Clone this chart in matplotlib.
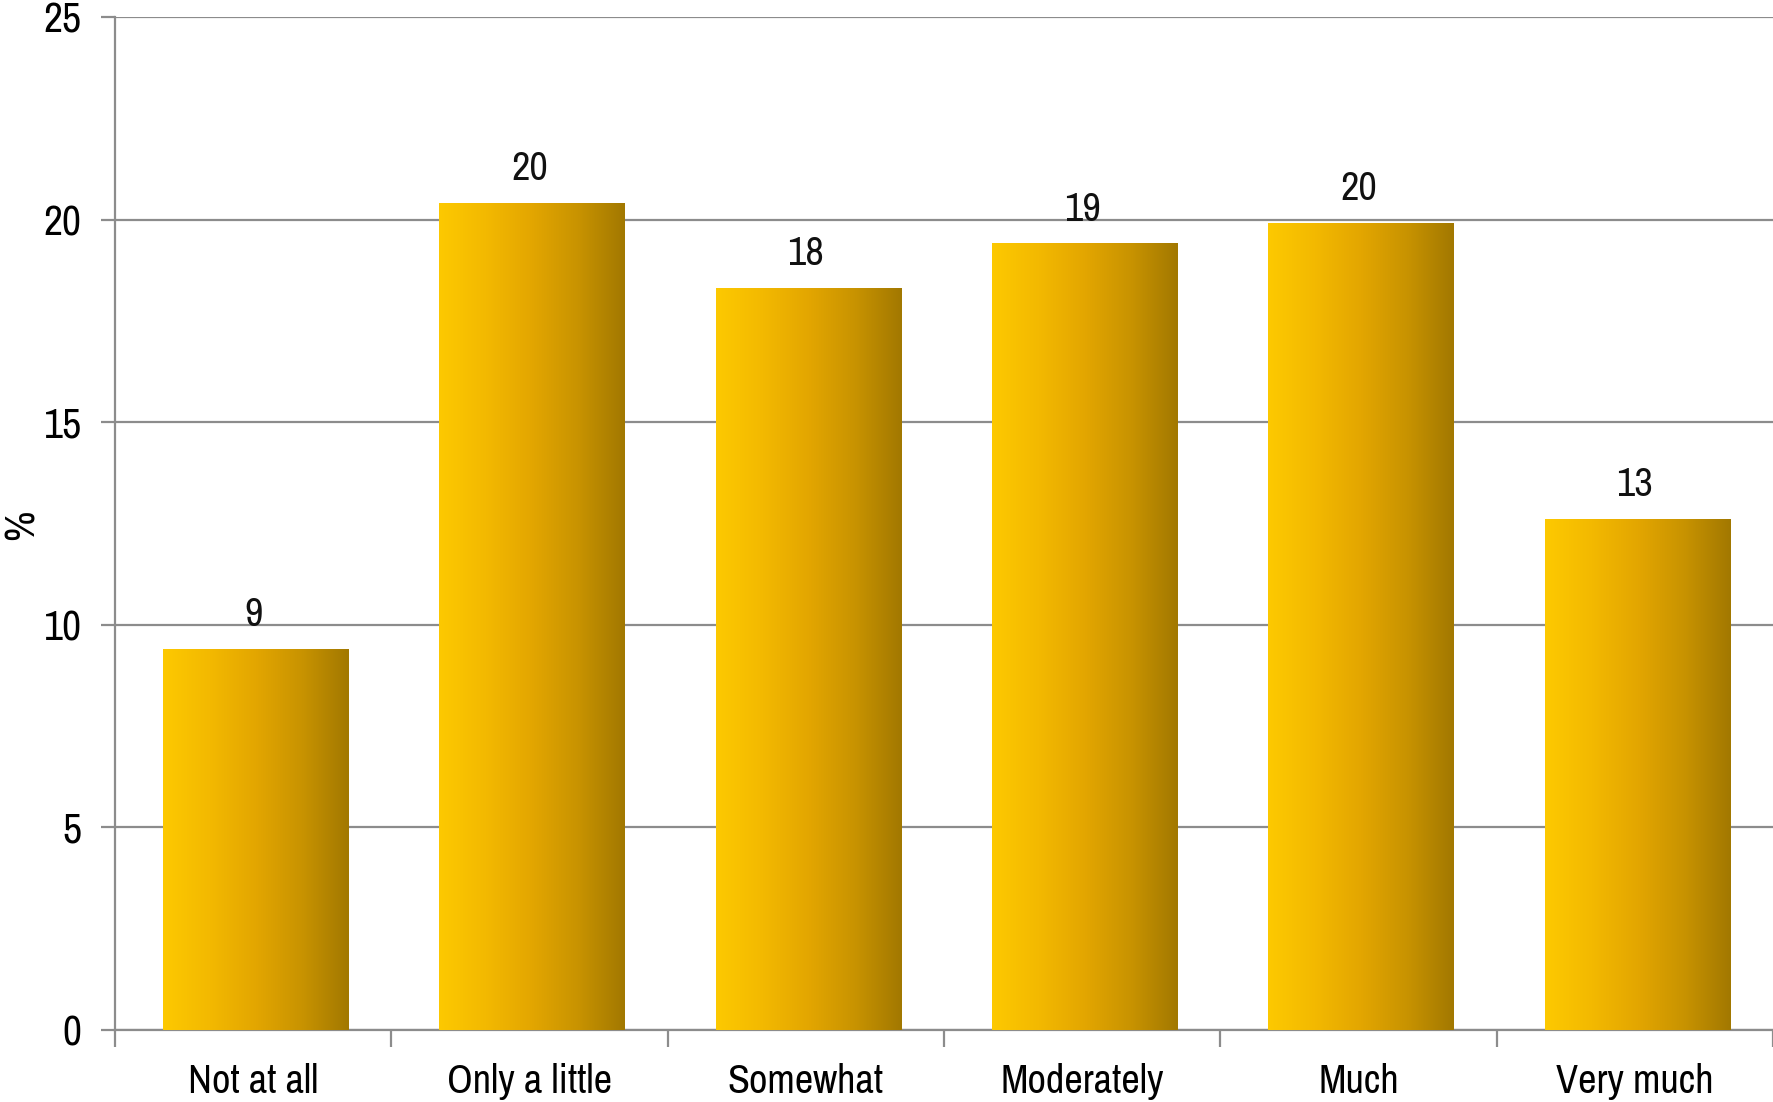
import numpy as np
import matplotlib
matplotlib.use('Agg')
import matplotlib.pyplot as plt
from matplotlib import font_manager
from matplotlib.colors import LinearSegmentedColormap

categories = ['Not at all', 'Only a little', 'Somewhat', 'Moderately', 'Much', 'Very much']
values = [9.4, 20.4, 18.3, 19.4, 19.9, 12.6]
labels = ['9', '20', '18', '19', '20', '13']

# narrow font if there is one, otherwise Liberation Sans
names = sorted(set(f.name for f in font_manager.fontManager.ttflist))
narrow = [n for n in names if 'Narrow' in n or 'Condensed' in n]
font = narrow[0] if narrow else 'Liberation Sans'
plt.rcParams['font.family'] = [font, 'DejaVu Sans']

fig = plt.figure(figsize=(17.73, 11.02), dpi=100)
ax = fig.add_axes([115 / 1773, 1 - 1030 / 1102, 1 - 115 / 1773, (1030 - 17) / 1102])

# gradient for the bars, light gold on the left to dark on the right
cmap = LinearSegmentedColormap.from_list('gold', ['#fdc900', '#f3b900', '#e3a600', '#c89300', '#a27800'])
grad = np.linspace(0, 1, 256).reshape(1, -1)

width = 0.672
x = np.arange(len(categories))
for i, v in enumerate(values):
    ax.imshow(grad, cmap=cmap, aspect='auto', extent=[i + 0.01 - width / 2, i + 0.01 + width / 2, 0, v], zorder=3)
    ax.text(i, v + 0.4, labels[i], ha='center', va='bottom', fontsize=29, color='#111111', zorder=4)

ax.set_xlim(-0.5, 5.47)
ax.set_ylim(0, 25)
ax.set_yticks(range(0, 26, 5))
ax.yaxis.grid(True, color='#8c8c8c', linewidth=1.6, zorder=0)
ax.set_axisbelow(True)

ax.set_xticks(x)
ax.set_xticklabels(categories, fontsize=29)
ax.set_xticks(np.arange(-0.5, 6, 1), minor=True)
ax.tick_params(axis='x', which='major', length=0, pad=24)
ax.tick_params(axis='x', which='minor', length=12, width=1.6, color='#8c8c8c', direction='out')
ax.tick_params(axis='y', length=10, width=1.6, color='#8c8c8c', labelsize=30, pad=14)

for s in ['top', 'right']:
    ax.spines[s].set_visible(False)
for s in ['left', 'bottom']:
    ax.spines[s].set_color('#8c8c8c')
    ax.spines[s].set_linewidth(1.6)

fig.text(22 / 1773, 1 - 525 / 1102, '%', rotation=90, fontsize=30, ha='center', va='center')
# N label sits mostly above the top edge, as in the source image
fig.text(1692 / 1773, 1 + 12 / 1102, 'N=191', fontsize=28, ha='center', va='center')

fig.savefig('out.png', dpi=100)
